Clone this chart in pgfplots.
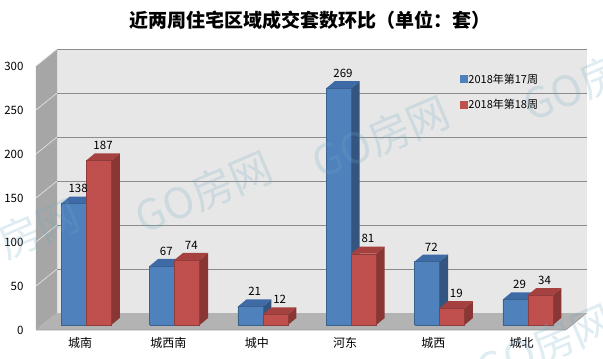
\documentclass[border=0pt]{standalone}
\usepackage{fontspec}
\usepackage{pgfplots}
\usepackage{pgfplotstable}
\pgfplotsset{compat=1.18}
\setmainfont{Noto Sans CJK SC}

\definecolor{bluef}{HTML}{4F81BD}
\definecolor{bluet}{HTML}{3E6AA6}
\definecolor{blues}{HTML}{34557F}
\definecolor{redf}{HTML}{C0504D}
\definecolor{redt}{HTML}{A5413E}
\definecolor{reds}{HTML}{8A3634}
\definecolor{backw}{HTML}{E7E7E7}
\definecolor{leftw}{HTML}{A6A6A6}
\definecolor{floorc}{HTML}{B3B3B3}
\definecolor{gridc}{HTML}{8C8C8C}
\definecolor{wm}{HTML}{6FA8C0}

\pgfplotstableread{
x a b
0 138 187
1 67 74
2 21 12
3 269 81
4 72 19
5 29 34
}\data

\def\cbw{0.283}
\def\cox{0.070}
\def\coy{5.7}
\def\cdx{0.096}
\def\cdy{8.0}
\def\wdx{0.238}
\def\wdy{19.3}

\newcommand\cube[5]{%
 \pgfmathsetmacro\cxa{#1+\cox}%
 \pgfmathsetmacro\cxb{#1+\cox+\cbw}%
 \pgfmathsetmacro\cxc{#1+\cox+\cbw+\cdx}%
 \pgfmathsetmacro\cxd{#1+\cox+\cdx}%
 \pgfmathsetmacro\cya{\coy}%
 \pgfmathsetmacro\cyb{#2+\coy}%
 \pgfmathsetmacro\cyc{#2+\coy+\cdy}%
 \pgfmathsetmacro\cyd{\coy+\cdy}%
 \edef\temp{%
  \noexpand\addplot[forget plot, fill=#5, draw=none] coordinates {(\cxb,\cya) (\cxc,\cyd) (\cxc,\cyc) (\cxb,\cyb) (\cxb,\cya)};
  \noexpand\addplot[forget plot, fill=#4, draw=none] coordinates {(\cxa,\cyb) (\cxb,\cyb) (\cxc,\cyc) (\cxd,\cyc) (\cxa,\cyb)};
  \noexpand\addplot[forget plot, fill=#3, draw=#3!75!black, line width=0.4pt] coordinates {(\cxa,\cya) (\cxb,\cya) (\cxb,\cyb) (\cxa,\cyb) (\cxa,\cya)};
 }\temp}

\begin{document}
\begin{tikzpicture}
\begin{axis}[
 x=88.3pt, y=0.88pt,
 xmin=-0.5, xmax=5.738, ymin=0, ymax=319.3,
 anchor=south west, at={(0,0)},
 clip=false,
 no markers,
 axis line style={draw=none},
 tick style={draw=none},
 ytick={0,50,...,300},
 xtick={0,1,2,3,4,5},
 xticklabels={城南,城西南,城中,河东,城西,城北},
 tick label style={font=\fontsize{11.5}{12}\selectfont},
 xticklabel style={font=\fontsize{12}{13}\selectfont, yshift=-4pt},
 yticklabel style={xshift=-9pt},
 /pgf/number format/assume math mode=true,
 legend style={at={(0.7695,0.847)}, anchor=west, draw=none, fill=none,
   inner sep=0pt, row sep=13pt, font=\fontsize{11}{12}\selectfont,
   nodes={inner sep=1pt}},
 legend cell align=left,
]
\coordinate (O) at (axis cs:-0.5,0);
% walls
\addplot[forget plot, fill=backw, draw=none] coordinates {(-0.262,19.3) (5.738,19.3) (5.738,319.3) (-0.262,319.3) (-0.262,19.3)};
\addplot[forget plot, fill=leftw, draw=none] coordinates {(-0.5,0) (-0.262,19.3) (-0.262,319.3) (-0.5,300) (-0.5,0)};
\pgfplotsforeachungrouped \gv in {50,100,...,300}{%
 \pgfmathsetmacro\gy{\gv+\wdy}%
 \edef\temp{%
  \noexpand\addplot[forget plot, draw=gridc, line width=0.8pt] coordinates {(-0.262,\gy) (5.738,\gy)};
  \noexpand\addplot[forget plot, draw=white!75!leftw, line width=0.6pt] coordinates {(-0.5,\gv) (-0.262,\gy)};
 }\temp}
\addplot[forget plot, fill=floorc, draw=none] coordinates {(-0.5,0) (5.5,0) (5.738,19.3) (-0.262,19.3) (-0.5,0)};
\addplot[forget plot, draw=gray!80, line width=0.6pt] coordinates {(-0.5,0) (5.5,0) (5.738,19.3)};
% bars
\pgfplotsforeachungrouped \i in {0,...,5}{%
 \pgfplotstablegetelem{\i}{a}\of\data \let\va\pgfplotsretval
 \pgfplotstablegetelem{\i}{b}\of\data \let\vb\pgfplotsretval
 \pgfmathsetmacro\xl{\i-\cbw}%
 \cube{\xl}{\va}{bluef}{bluet}{blues}%
 \cube{\i}{\vb}{redf}{redt}{reds}%
}
% labels
\addplot[forget plot, draw=none, nodes near coords, point meta=explicit,
 every node near coord/.append style={font=\fontsize{11.5}{12}\selectfont, text=black}]
 table[x expr=\thisrow{x}-\cbw/2+\cox+\cdx/2, y expr=\thisrow{a}+\coy+\cdy, meta=a]{\data};
\addplot[forget plot, draw=none, nodes near coords, point meta=explicit,
 every node near coord/.append style={font=\fontsize{11.5}{12}\selectfont, text=black}]
 table[x expr=\thisrow{x}+\cbw/2+\cox+\cdx/2, y expr=\thisrow{b}+\coy+\cdy, meta=b]{\data};
% legend
\addlegendimage{legend image code/.code={\fill[bluef] (0pt,-3.5pt) rectangle (7pt,3.5pt);}}
\addlegendentry{2018年第17周}
\addlegendimage{legend image code/.code={\fill[redf] (0pt,-3.5pt) rectangle (7pt,3.5pt);}}
\addlegendentry{2018年第18周}
\end{axis}
\node[font=\fontsize{19}{21}\selectfont\bfseries] at ([shift={(274pt,310pt)}]O) {近两周住宅区域成交套数环比（单位：套）};
\foreach \p in {(168pt,138pt),(345pt,193pt),(556pt,250pt),(-25pt,90pt),(509pt,-15pt)}{
 \node[rotate=23, font=\fontsize{42}{42}\selectfont, text=wm, opacity=0.22] at ([shift={\p}]O) {GO房网};
}
\pgfresetboundingbox
\path[use as bounding box] ([shift={(-36pt,-29pt)}]O) rectangle ([shift={(567pt,330pt)}]O);
\end{tikzpicture}
\end{document}
